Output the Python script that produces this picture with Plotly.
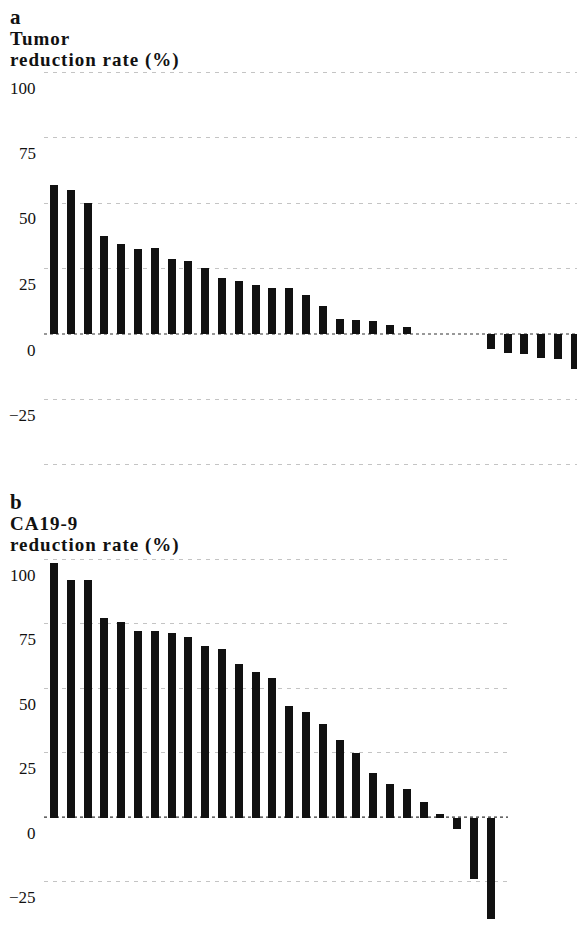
import plotly.graph_objects as go

# ---- data ----
tumor_reduction = [57.0, 55.1, 50.0, 37.6, 34.4, 32.7, 33.0, 28.8, 28.0, 25.3,
                   21.4, 20.3, 19.0, 17.6, 17.5, 15.1, 10.9, 6.0, 5.4, 4.9,
                   3.6, 2.6, 0, 0, 0, 0, -5.8, -7.3, -7.7, -9.0, -9.6, -13.2]
ca199_reduction = [98.6, 92.1, 92.1, 77.4, 75.7, 72.5, 72.5, 71.4, 69.9, 66.3,
                   65.4, 59.6, 56.6, 54.0, 43.3, 40.8, 36.3, 30.1, 25.1, 17.3,
                   13.1, 11.1, 5.9, 1.4, -4.6, -24.0, -39.3]
tick_vals_a = [100, 75, 50, 25, 0, -25]
tick_vals_b = [100, 75, 50, 25, 0, -25]
grid_a = [-50, -25, 25, 50, 75, 100]
grid_b = [-25, 25, 50, 75, 100]
panel_letters = ["a", "b"]
panel_titles = [["Tumor", "reduction rate (%)"], ["CA19-9", "reduction rate (%)"]]

W, H = 577, 944
SERIF = "Liberation Serif, Times New Roman, serif"

def py(px):
    return 1 - px / H

def pxx(px):
    return px / W

fig = go.Figure()
fig.add_trace(go.Bar(x=list(range(len(tumor_reduction))), y=tumor_reduction,
                     width=0.48, marker=dict(color="#111111", line=dict(width=0)),
                     xaxis="x", yaxis="y", showlegend=False))
fig.add_trace(go.Bar(x=list(range(len(ca199_reduction))), y=ca199_reduction,
                     width=0.48, marker=dict(color="#111111", line=dict(width=0)),
                     xaxis="x2", yaxis="y2", showlegend=False))

x_left, x_right_a, x_right_b = 44, 577, 508
x0_px, step_px = 54, 16.8
xr_a = [(x_left - x0_px) / step_px, (x_right_a - x0_px) / step_px]
xr_b = [(x_left - x0_px) / step_px, (x_right_b - x0_px) / step_px]
xdom_a = [pxx(x_left), 1.0]
xdom_b = [pxx(x_left), pxx(x_right_b)]

axcommon = dict(showline=False, showticklabels=False, ticks="", zeroline=False)
gridstyle = dict(showgrid=True, gridcolor="#c4c4c4", griddash="4px,5px", gridwidth=1)
fig.update_layout(
    width=W, height=H,
    margin=dict(l=0, r=0, t=0, b=0),
    paper_bgcolor="white", plot_bgcolor="white",
    bargap=0,
    xaxis=dict(domain=xdom_a, range=xr_a, showgrid=False, **axcommon),
    xaxis2=dict(domain=xdom_b, range=xr_b, showgrid=False, anchor="y2", **axcommon),
    yaxis=dict(domain=[py(466.3), py(70.7)], range=[-50.5, 100.5], anchor="x",
               tickvals=grid_a, **gridstyle, **axcommon),
    yaxis2=dict(domain=[py(925.4), py(557.5)], range=[-42, 100.6], anchor="x2",
                tickvals=grid_b, **gridstyle, **axcommon),
)

# dotted zero lines
for yref, xd in [("y", xdom_a), ("y2", xdom_b)]:
    fig.add_shape(type="line", xref="paper", yref=yref, x0=xd[0], x1=xd[1],
                  y0=0, y1=0, line=dict(color="#333333", width=1.2, dash="dot"),
                  layer="below")

# tick labels (placed below their grid lines, as in the reference)
for yref, vals in [("y", tick_vals_a), ("y2", tick_vals_b)]:
    for v in vals:
        lab = str(v) if v >= 0 else "\u2212" + str(-v)
        fig.add_annotation(text=lab, xref="paper", yref=yref, x=pxx(38), y=v,
                           xanchor="right", yanchor="middle", yshift=-16,
                           showarrow=False,
                           font=dict(family=SERIF, size=17, color="#111111"))

# titles: panel letter, then two tightly spaced lines in one text
LS, TS = 21, 19
letter_tops = [3, 488]
title_tops = [25.5, 511]
for letter, lines, ltop, ttop in zip(panel_letters, panel_titles, letter_tops, title_tops):
    fig.add_annotation(text=f"<b>{letter}</b>", xref="paper", yref="paper",
                       x=pxx(8), y=py(ltop), xanchor="left", yanchor="top",
                       showarrow=False,
                       font=dict(family=SERIF, size=LS, color="#111111"))
    body = "<br>".join(
        f"<span style='font-size:{TS}px;letter-spacing:1px'><b>{ln}</b></span>"
        for ln in lines)
    fig.add_annotation(text=body, xref="paper", yref="paper", align="left",
                       x=pxx(8), y=py(ttop), xanchor="left", yanchor="top",
                       showarrow=False,
                       font=dict(family=SERIF, size=16, color="#111111"))

fig.write_html("out.html", config={"displayModeBar": False},
               post_script="document.body.style.margin='0';")
